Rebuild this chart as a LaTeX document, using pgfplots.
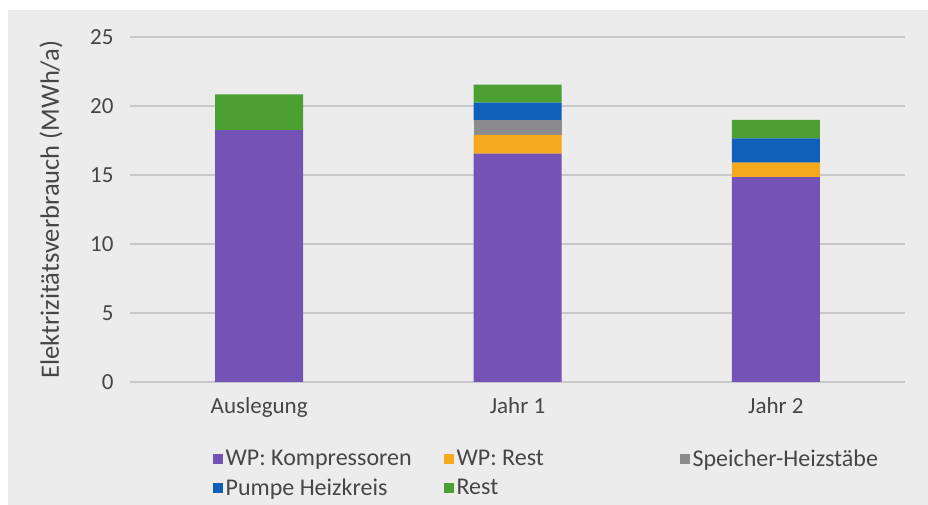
\documentclass[border=0pt]{standalone}
\usepackage{fontspec}
\setmainfont{Carlito}
\usepackage{pgfplots}
\pgfplotsset{compat=1.18}
\definecolor{bgc}{RGB}{236,236,237}
\definecolor{gridc}{RGB}{200,200,202}
\definecolor{txt}{RGB}{70,70,72}
\definecolor{cpurple}{RGB}{117,82,181}
\definecolor{corange}{RGB}{245,170,30}
\definecolor{cgray}{RGB}{140,140,142}
\definecolor{cblue}{RGB}{16,96,186}
\definecolor{cgreen}{RGB}{76,160,50}
\begin{document}
\begin{tikzpicture}[x=1pt,y=1pt]
\fill[white] (0,0) rectangle (928,505);
\fill[bgc] (8,0) rectangle (928,495);
\useasboundingbox (0,0) rectangle (928,505);
\begin{axis}[
  at={(130pt,123pt)}, anchor=south west,
  scale only axis, width=775pt, height=345pt,
  ybar stacked, bar width=88pt,
  xmin=-0.5, xmax=2.5, ymin=0, ymax=25,
  xtick={0,1,2}, xticklabels={Auslegung,Jahr 1,Jahr 2},
  ytick={0,5,...,25},
  ymajorgrids, grid style={gridc, line width=1.2pt},
  axis line style={draw=none},
  major tick length=0pt,
  tick label style={font=\fontsize{23}{27}\selectfont, text=txt},
  /pgf/number format/assume math mode=true,
  xticklabel style={yshift=-12pt},
  yticklabel style={xshift=-13pt},
  ylabel={Elektrizitätsverbrauch (MWh/a)},
  ylabel style={at={(axis description cs:-0.102,0.5)}, anchor=center, font=\fontsize{26.5}{30}\selectfont, text=txt},
  legend columns=3,
  legend cell align=left,
  legend image code/.code={\fill[#1] (0pt,-5pt) rectangle (10pt,5pt);},
  legend style={at={(axis description cs:0.107,-0.19)}, anchor=north west,
    draw=none, fill=none, inner sep=0pt,
    font=\fontsize{24}{28}\selectfont, text=txt,
    nodes={inner xsep=2.5pt, inner ysep=2pt},
    /tikz/every even column/.append style={column sep=0pt},
    row sep=7pt},
]
\addplot[fill=cpurple, draw=none] coordinates {(0,18.25) (1,16.55) (2,14.85)};
\addlegendentry{\makebox[216pt][l]{WP: Kompressoren}}
\addplot[fill=corange, draw=none] coordinates {(0,0) (1,1.35) (2,1.05)};
\addlegendentry{\makebox[221pt][l]{WP: Rest}}
\addplot[fill=cgray, draw=none] coordinates {(0,0) (1,1.05) (2,0)};
\addlegendentry{Speicher-Heizstäbe}
\addplot[fill=cblue, draw=none] coordinates {(0,0) (1,1.3) (2,1.75)};
\addlegendentry{Pumpe Heizkreis}
\addplot[fill=cgreen, draw=none] coordinates {(0,2.6) (1,1.3) (2,1.35)};
\addlegendentry{Rest}
\end{axis}
\end{tikzpicture}
\end{document}
